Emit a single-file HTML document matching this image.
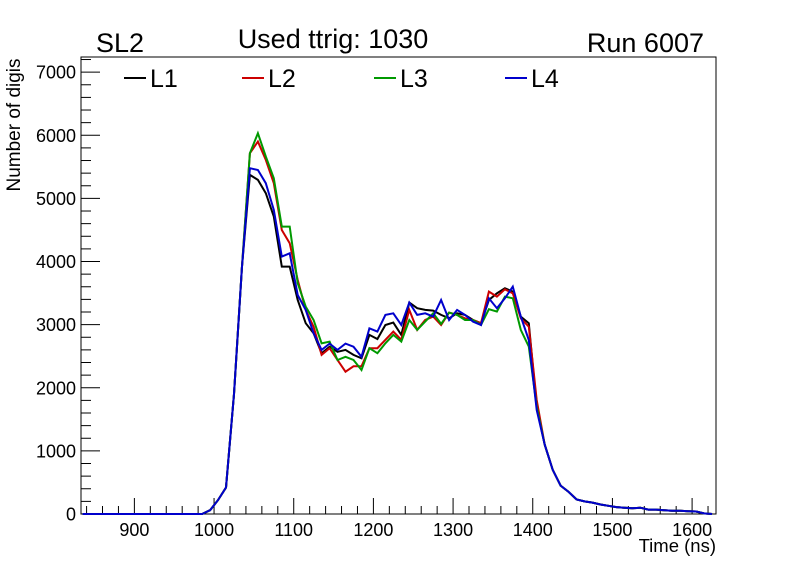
<!DOCTYPE html>
<html><head><meta charset="utf-8"><style>
body{margin:0;background:#fff;}
svg text{font-family:"Liberation Sans",Arial,sans-serif;}
</style></head><body>
<svg id="chart" width="796" height="572" xmlns="http://www.w3.org/2000/svg">
<rect width="796" height="572" fill="#fff"/>
<g id="axes"></g>
<g id="series"></g>
<text x="96" y="52" font-size="27">SL2</text>
<text x="333" y="48" font-size="27" text-anchor="middle">Used ttrig: 1030</text>
<text x="704" y="52" font-size="27" text-anchor="end">Run 6007</text>
<text transform="translate(20,125) rotate(-90)" font-size="19" text-anchor="middle">Number of digis</text>
<text x="716" y="552" font-size="18.5" text-anchor="end">Time (ns)</text>
<g id="legend"></g>
</svg>
<script>
const times = [];
for (let k = 0; k < 80; k++) times.push(835 + 10 * k);
const seriesNames = ["L1","L2","L3","L4"];
const seriesColors = ["#000000","#cc0000","#009900","#0000cc"];
const pre = [0,0,0,0,0,0,0,0,0,0,0,0,0,0,0,0];
const tail = [1100,700,450,350,230,200,180,150,130,110,100,90,100,70,70,60,50,50,45,40,10,0];
const l1Core = [60,220,420,1900,3900,5372,5293,5082,4712,3919,3919,3391,3022,2864,2546,2650,2570,2600,2520,2467,2837,2773,2995,3032,2837,3349,3260,3233,3222,3154,3101,3180,3154,3074,3022,3391,3497,3576,3523,3127,3022,1700];
const l2Core = [60,220,420,1900,3900,5716,5900,5610,5240,4500,4290,3708,3233,2968,2520,2626,2440,2255,2340,2340,2626,2626,2759,2890,2759,3233,2916,3074,3127,2995,3191,3154,3101,3074,3022,3523,3444,3560,3497,3101,2968,1806];
const l3Core = [60,220,420,1900,3900,5716,6033,5663,5320,4553,4553,3656,3285,3074,2705,2730,2440,2490,2440,2282,2626,2547,2705,2837,2732,3074,2916,3048,3180,3011,3191,3154,3074,3074,2995,3244,3207,3444,3418,2916,2652,1700];
const l4Core = [60,220,420,1900,3900,5478,5450,5240,4818,4078,4130,3470,3233,2864,2600,2700,2600,2700,2650,2490,2942,2890,3154,3180,2995,3349,3154,3180,3127,3391,3074,3233,3154,3048,2995,3418,3260,3418,3602,3127,2757,1648];
const yTicks = [0,1000,2000,3000,4000,5000,6000,7000];
const xTicks = [900,1000,1100,1200,1300,1400,1500,1600];
const seriesValues = [pre.concat(l1Core,tail), pre.concat(l2Core,tail), pre.concat(l3Core,tail), pre.concat(l4Core,tail)];

const X0=81, X1=716, Y0=514, Y1=57, XMIN=833, XMAX=1630, YMIN=0, YMAX=7240;
const sx = t => X0 + (t - XMIN) / (XMAX - XMIN) * (X1 - X0);
const sy = v => Y0 - (v - YMIN) / (YMAX - YMIN) * (Y0 - Y1);
const NS = "http://www.w3.org/2000/svg";
function mk(tag, attrs, parent){const e=document.createElementNS(NS,tag);for(const k in attrs)e.setAttribute(k,attrs[k]);parent.appendChild(e);return e;}
const axes = document.getElementById('axes');
const frame = mk('rect',{x:X0,y:Y1,width:X1-X0,height:Y0-Y1,fill:'none',stroke:'#000','stroke-width':1},axes);


for (let v = 0; v <= 7200; v += 200) {
  const major = v % 1000 === 0;
  const tk = mk('line',{x1:X0,x2:X0+(major?19:10),y1:sy(v),y2:sy(v),stroke:'#000'},axes);
  
  
}
yTicks.forEach(v => {
  const t = mk('text',{x:X0-5,y:sy(v)+6.5,'font-size':18,'text-anchor':'end'},axes);
  t.textContent = v;
  
  
});
for (let t = 840; t <= 1620; t += 20) {
  const major = t % 100 === 0;
  const tk = mk('line',{x1:sx(t),x2:sx(t),y1:Y0,y2:Y0-(major?16:8),stroke:'#000'},axes);
  
  
}
xTicks.forEach(v => {
  const t = mk('text',{x:sx(v),y:Y0+22,'font-size':18,'text-anchor':'middle'},axes);
  t.textContent = v;
  
  
});
const sg = document.getElementById('series');
seriesValues.forEach((vals, i) => {
  const pts = vals.map((v, j) => sx(times[j]).toFixed(1) + ',' + sy(v).toFixed(1)).join(' ');
  const pl = mk('polyline',{points:pts,fill:'none',stroke:seriesColors[i],'stroke-width':2,'stroke-linejoin':'miter'},sg);
  
  
});
const lg = document.getElementById('legend');
const legX = [124, 242, 374, 505];
seriesNames.forEach((n, i) => {
  const ln = mk('line',{x1:legX[i],x2:legX[i]+22,y1:78,y2:78,stroke:seriesColors[i],'stroke-width':2},lg);
  
  
  const t = mk('text',{x:legX[i]+26,y:87,'font-size':25},lg);
  t.textContent = n;
  
  
});
</script>
</body></html>
